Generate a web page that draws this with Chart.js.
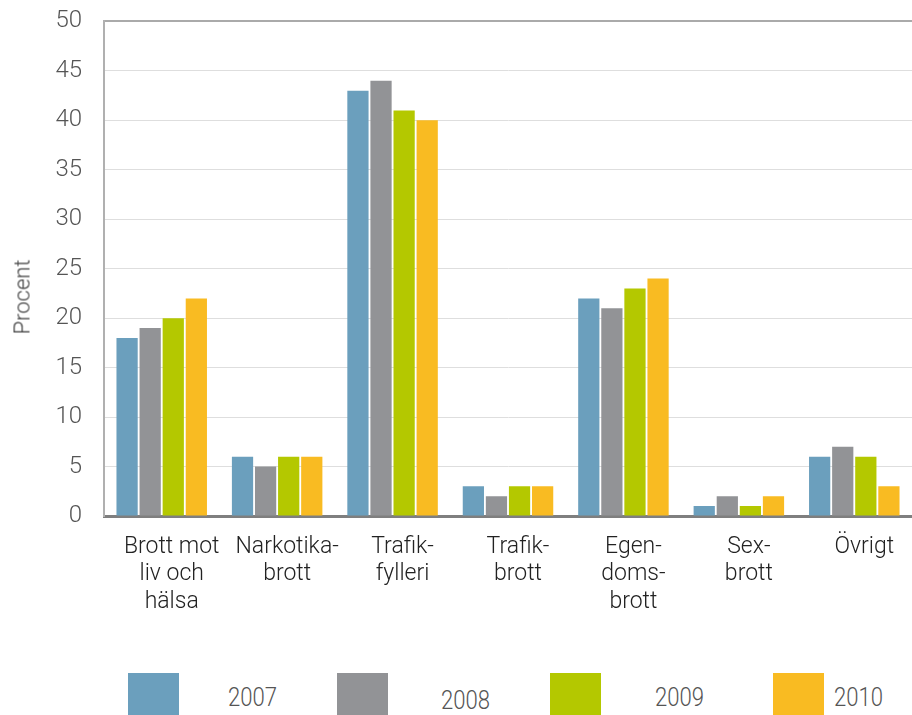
<!DOCTYPE html>
<html>
<head>
<meta charset="utf-8">
<script src="https://cdn.jsdelivr.net/npm/chart.js@4.4.0/dist/chart.umd.min.js"></script>
<style>
  body { margin: 0; background: #fff; font-family: Roboto, sans-serif; }
  #wrap { position: relative; width: 912px; height: 715px; overflow: hidden; }
  #wrap canvas { position: absolute; left: 0; top: -15px; }
  #ytitle { position: absolute; left: 22px; top: 297px; font-size: 22px; color: #444; font-weight: 300;
            transform: translate(-50%, -50%) rotate(-90deg); white-space: nowrap; }
  .lg-box { position: absolute; top: 673px; width: 51px; height: 42px; }
  .lg-txt { position: absolute; font-size: 26px; color: #555; line-height: 26px; font-weight: 300;
            transform: scaleX(0.85); transform-origin: left; }
</style>
</head>
<body>
<div id="wrap">
  <canvas id="c" width="912" height="675"></canvas>
  <div id="ytitle">Procent</div>
  <div id="legend"></div>
</div>
<script>
// kategorier (brytningar som i originalet)
const categories = [
  ["Brott mot", "liv och", "hälsa"],
  ["Narkotika-", "brott"],
  ["Trafik-", "fylleri"],
  ["Trafik-", "brott"],
  ["Egen-", "doms-", "brott"],
  ["Sex-", "brott"],
  ["Övrigt"]
]
const years = ["2007", "2008", "2009", "2010"]
const v2007 = [18, 6, 43, 3, 22, 1, 6]
const v2008 = [19, 5, 44, 2, 21, 2, 7]
const v2009 = [20, 6, 41, 3, 23, 1, 6]
const v2010 = [22, 6, 40, 3, 24, 2, 3]
const yTicks = [0, 5, 10, 15, 20, 25, 30, 35, 40, 45, 50]

const colors = ["#6b9fbd", "#929396", "#b4c800", "#f9bb22"]
const series = [v2007, v2008, v2009, v2010]

const datasets = years.map((y, i) => ({
  label: y,
  data: series[i],
  backgroundColor: colors[i],
  borderWidth: 0,
  categoryPercentage: 0.8,
  barPercentage: 0.92
}))

new Chart(document.getElementById("c"), {
  type: "bar",
  data: { labels: categories, datasets: datasets },
  options: {
    responsive: false,
    animation: false,
    layout: { padding: { top: 8, left: 0, right: 0, bottom: 0 } },
    plugins: { legend: { display: false }, tooltip: { enabled: false } },
    scales: {
      x: {
        grid: { display: false },
        border: { color: "#7f7f7f", width: 3 },
        ticks: {
          color: "#222",
          padding: 9,
          labelOffset: 10,
          maxRotation: 0,
          autoSkip: false,
          font: { family: "Roboto", size: 23, weight: 300, lineHeight: 1.2 }
        },
        afterFit(s) { s.height = 144 }
      },
      y: {
        min: 0,
        max: 50,
        afterBuildTicks(s) { s.ticks = yTicks.map(v => ({ value: v })) },
        grid: {
          color: (ctx) => ctx.tick && ctx.tick.value === 50 ? "#aaa" : "#dedede",
          lineWidth: (ctx) => ctx.tick && ctx.tick.value === 50 ? 2 : 1,
          drawTicks: false
        },
        border: { color: "#b0b0b0", width: 2 },
        ticks: {
          color: "#555",
          padding: 22,
          font: { family: "Roboto", size: 24, weight: 300 }
        },
        afterFit(s) { s.width = 104 }
      }
    }
  }
})

// legend i html
const lgBoxX = [128, 337, 550, 773]
const lgTxt = [[228, 684], [441, 687], [655, 684], [834, 684]]
const legend = document.getElementById("legend")
years.forEach((y, i) => {
  const b = document.createElement("div")
  b.className = "lg-box"
  b.style.left = lgBoxX[i] + "px"
  b.style.background = colors[i]
  legend.appendChild(b)
  const t = document.createElement("div")
  t.className = "lg-txt"
  t.style.left = lgTxt[i][0] + "px"
  t.style.top = lgTxt[i][1] + "px"
  t.textContent = y
  legend.appendChild(t)
})
</script>
</body>
</html>
